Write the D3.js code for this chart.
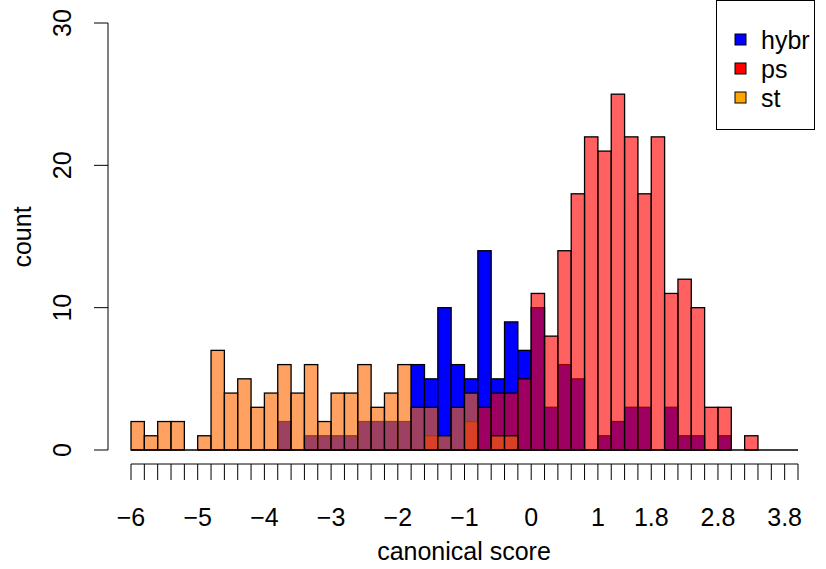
<!DOCTYPE html>
<html><head><meta charset="utf-8">
<script src="https://cdn.jsdelivr.net/npm/d3@7"></script>
<style>body{margin:0;background:#fff}text{font-family:"Liberation Sans",Arial,sans-serif}</style>
</head><body><div id="chart"></div>
<script>
// bins of width 0.2 from -6 to 4
const binStart = -6, binWidth = 0.2;
const hybr = [0,0,0,0,0,0,0,0,0,0, 0,2,0,1,1,1,1,2,2,2, 2,6,5,10,6,5,14,5,9,7, 10,3,6,5,0,1,2,3,3,0, 3,1,1,0,1,0,0,0,0,0];
const ps   = [0,0,0,0,0,0,0,0,0,0, 0,0,0,0,0,0,0,0,0,0, 0,0,1,0,0,2,3,4,4,5, 11,8,14,18,22,21,25,22,18,22, 11,12,10,3,3,0,1,0,0,0];
const st   = [2,1,2,2,0,1,7,4,5,3, 4,6,4,6,2,4,4,6,3,4, 6,3,3,1,3,4,0,1,1,0, 0,0,0,0,0,0,0,0,0,0, 0,0,0,0,0,0,0,0,0,0];
const xTicks = [-6,-5,-4,-3,-2,-1,0,1,1.8,2.8,3.8];
const yTicks = [0,10,20,30];
const series = [
  {name: "hybr", values: hybr, fill: "rgb(0,0,255)", legend: "#0000ff"},
  {name: "ps", values: ps, fill: "rgba(255,0,0,0.62)", legend: "#ff0000"},
  {name: "st", values: st, fill: "rgba(255,103,0,0.62)", legend: "#ffa500"}
];

const W = 826, H = 569, FS = 25;
const svg = d3.select("#chart").append("svg").attr("width", W).attr("height", H);

const x = d3.scaleLinear().domain([-6, 4]).range([131, 798]);
const y = d3.scaleLinear().domain([0, 30]).range([450, 23]);

series.forEach(s => {
  svg.append("g").selectAll("rect")
    .data(s.values.map((v, i) => ({v, x0: binStart + i * binWidth})).filter(d => d.v > 0))
    .join("rect")
    .attr("x", d => x(d.x0))
    .attr("width", d => x(d.x0 + binWidth) - x(d.x0))
    .attr("y", d => y(d.v))
    .attr("height", d => y(0) - y(d.v))
    .attr("fill", s.fill)
    .attr("stroke", "#000")
    .attr("stroke-width", 1.3);
});

// baseline for empty bins
svg.append("line").attr("x1", x(-6)).attr("x2", x(4)).attr("y1", y(0)).attr("y2", y(0))
  .attr("stroke", "#000").attr("stroke-width", 1.3);

// x axis: ticks every 0.2
const minor = d3.range(0, 51).map(i => -6 + i * 0.2);
const xa = svg.append("g").attr("transform", "translate(0,464)");
xa.append("line").attr("x1", x(-6)).attr("x2", x(4)).attr("stroke", "#000");
xa.selectAll(".t").data(minor).join("line").attr("class", "t")
  .attr("x1", d => x(d)).attr("x2", d => x(d)).attr("y1", 0).attr("y2", 16).attr("stroke", "#000");
xa.selectAll("text").data(xTicks).join("text")
  .attr("x", d => x(d)).attr("y", 62).attr("text-anchor", "middle").attr("font-size", FS)
  .text(d => d < 0 ? "\u2212" + Math.abs(d) : d);

// y axis
const ya = svg.append("g").attr("transform", "translate(108,0)");
ya.append("line").attr("y1", y(0)).attr("y2", y(30)).attr("stroke", "#000");
ya.selectAll("line.t").data(yTicks).join("line").attr("class", "t")
  .attr("x1", -14).attr("x2", 0).attr("y1", d => y(d)).attr("y2", d => y(d)).attr("stroke", "#000");
ya.selectAll("text").data(yTicks).join("text")
  .attr("transform", d => `translate(-37,${y(d)}) rotate(-90)`)
  .attr("text-anchor", "middle").attr("font-size", FS).text(d => d);

svg.append("text").attr("x", 464).attr("y", 560).attr("text-anchor", "middle").attr("font-size", FS).text("canonical score");
svg.append("text").attr("transform", "translate(31,237) rotate(-90)").attr("text-anchor", "middle").attr("font-size", FS).text("count");

// legend
const lg = svg.append("g").attr("transform", "translate(716,0)");
lg.append("rect").attr("x", 0.5).attr("y", 0.5).attr("width", 98).attr("height", 129).attr("fill", "#fff").attr("stroke", "#000");
series.forEach((s, i) => {
  lg.append("rect").attr("x", 19).attr("y", 34 + i * 29).attr("width", 11).attr("height", 11)
    .attr("fill", s.legend).attr("stroke", "#000");
  lg.append("text").attr("x", 45).attr("y", 49 + i * 29).attr("font-size", FS).text(s.name);
});
</script></body></html>
